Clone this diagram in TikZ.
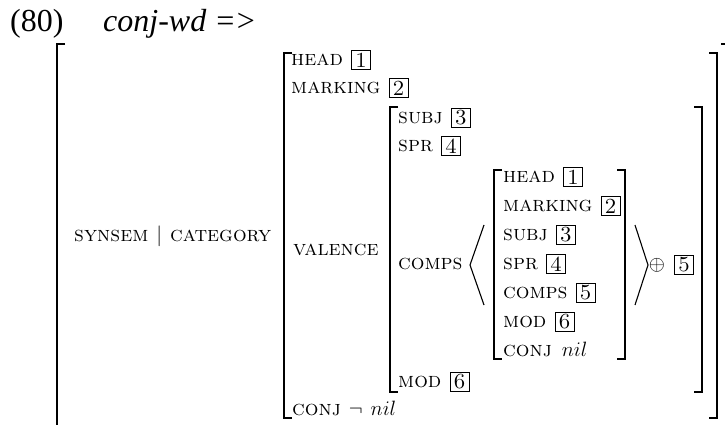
\documentclass[tikz,border=0pt]{standalone}
\usepackage{fontspec}
\newfontfamily\exfont{Liberation Serif}
\usetikzlibrary{positioning}
\newcommand{\avm}{\fontsize{21.5}{25}\selectfont\scshape}
\newcommand{\exsize}{\fontsize{32}{38}\selectfont\exfont}
\begin{document}
\begin{tikzpicture}[x=1pt,y=-1pt,
  feat/.style={anchor=west,inner sep=0pt,text height=11pt,text depth=0pt,font=\avm},
  tag/.style={draw,line width=0.8pt,inner sep=0pt,minimum width=19pt,minimum height=19pt,font=\avm},
  brk/.style={line width=1.6pt},
  ang/.style={line width=1.1pt}]
 \useasboundingbox (0,0) rectangle (725,425);
 \clip (0,0) rectangle (725,425);
 \node[anchor=base west,inner sep=0pt,font=\exsize] (num) at (10,32) {(80)};
 \node[anchor=base west,inner sep=0pt,font=\exsize\itshape] (lhs) at (103,32) {conj-wd =\kern-1pt>};
 \draw[brk] (65,44)--(57,44)--(57,440)--(65,440);
 \draw[brk] (721,44)--(729,44)--(729,440)--(721,440);
 \node[feat] (path) at (74,236) {synsem\hspace{8pt}$|$\hspace{8pt}category};
 \draw[brk] (292,53)--(284,53)--(284,418)--(292,418);
 \draw[brk] (709,53)--(717,53)--(717,418)--(709,418);
 \foreach \n/\f/\t/\y in {hd/head/1/60,mk/marking/2/88}{
   \node[feat] (\n) at (291,\y) {\f};
   \node[tag,right=8pt of \n] (\n t) {\t};}
 \node[feat] (val) at (293,250) {valence};
 \node[feat] (cj) at (292,410) {conj\hspace{8pt}$\neg$\hspace{8pt}$nil$};
 \draw[brk] (398,107)--(390,107)--(390,392)--(398,392);
 \draw[brk] (694,107)--(702,107)--(702,392)--(694,392);
 \foreach \n/\f/\t/\y in {sb/subj/3/118,sp/spr/4/146,md/mod/6/382}{
   \node[feat] (\n) at (398,\y) {\f};
   \node[tag,right=8pt of \n] (\n t) {\t};}
 \node[feat] (cm) at (398,264) {comps};
 \draw[ang] (484,225)--(470,265)--(484,305);
 \draw[brk] (502,170)--(494,170)--(494,359)--(502,359);
 \draw[brk] (617,170)--(625,170)--(625,359)--(617,359);
 \foreach \f/\t [count=\i] in {head/1,marking/2,subj/3,spr/4,comps/5,mod/6}{
   \node[feat] (in\i) at (503,{148+29*\i}) {\f};
   \node[tag,right=8pt of in\i] (in\i t) {\t};}
 \node[feat] (in7) at (503,351) {conj\hspace{10pt}$nil$};
 \draw[ang] (635,225)--(648,265)--(635,305);
 \node[font=\avm,inner sep=0pt] (plus) at (657,265) {$\oplus$};
 \node[tag] (lst) at (684,265) {5};
\end{tikzpicture}
\end{document}
